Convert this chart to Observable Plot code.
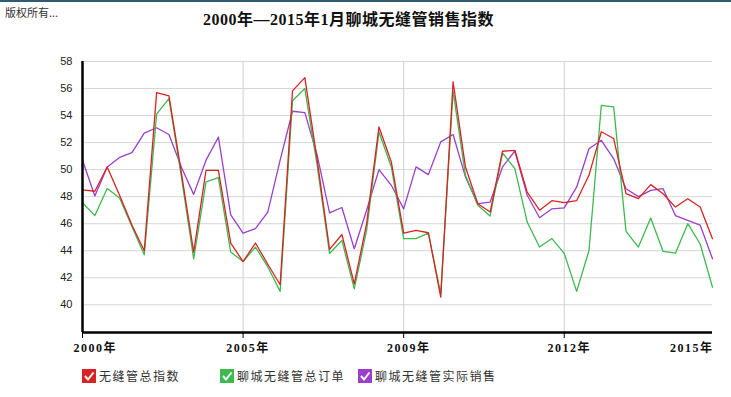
<!DOCTYPE html>
<html><head><meta charset="utf-8">
<script src="https://cdn.jsdelivr.net/npm/d3@7"></script>
<script src="https://cdn.jsdelivr.net/npm/@observablehq/plot@0.6"></script>
<style>
body{margin:0;background:#fff;}
#wrap{position:relative;width:731px;height:397px;overflow:hidden;background:#fff;}
#topline{position:absolute;left:0;top:0;width:731px;height:2px;background:#2f5b73;}
#copy{position:absolute;left:5px;top:4px;font:11px "Noto Sans CJK SC",sans-serif;color:#333;}
#title{position:absolute;left:0;width:697px;top:6px;text-align:center;font:bold 16px "Liberation Serif","Noto Sans CJK SC",serif;color:#111;letter-spacing:0.5px;}
#chart{position:absolute;left:0;top:0;}
#legend{position:absolute;left:0;top:367px;width:731px;height:20px;}
.item{position:absolute;top:0;display:flex;align-items:center;font:12px "Noto Sans CJK SC",sans-serif;color:#333;letter-spacing:1.5px;}
.item svg{margin-right:3px;}
</style></head><body>
<div id="wrap">
<div id="topline"></div>
<div id="chart"></div>
<div id="copy">版权所有...</div>
<div id="title">2000年—2015年1月聊城无缝管销售指数</div>
<div id="legend"></div>
</div>
<script>
const seriesNames = ["无缝管总指数", "聊城无缝管总订单", "聊城无缝管实际销售"];
const seriesColors = ["#d92323", "#3cba4f", "#9a3fcc"];
const tickIndex = [0, 13, 26, 39, 51];
const tickLabels = ["2000年", "2005年", "2009年", "2012年", "2015年"];
const yTicks = [40, 42, 44, 46, 48, 50, 52, 54, 56, 58];

const totalIndex = [48.5, 48.4, 50.2, 48.1, 45.9, 44.0, 55.7, 55.46, 49.8, 43.9, 49.95, 49.95, 44.56,
  43.2, 44.57, 43.0, 41.48, 55.83, 56.81, 50.7, 44.1, 45.2, 41.55, 46.0, 53.16, 50.56,
  45.3, 45.5, 45.33, 40.57, 56.5, 50.2, 47.48, 46.86, 51.36, 51.43, 48.34, 47.0, 47.7,
  47.56, 47.7, 49.58, 52.8, 52.3, 48.22, 47.85, 48.89, 48.22, 47.23, 47.85, 47.23, 44.89];
const totalOrders = [47.55, 46.6, 48.6, 47.9, 45.8, 43.7, 54.1, 55.26, 49.5, 43.4, 49.1, 49.4, 43.9,
  43.2, 44.27, 42.8, 40.99, 55.1, 56.0, 50.3, 43.8, 44.76, 41.18, 45.5, 52.79, 50.2,
  44.9, 44.9, 45.3, 40.8, 55.8, 49.58, 47.36, 46.57, 51.23, 50.07, 46.12, 44.27, 44.9,
  43.8, 40.99, 44.0, 54.76, 54.64, 45.43, 44.27, 46.42, 43.95, 43.82, 46.0, 44.5, 41.3];
const actualSales = [50.7, 48.05, 50.2, 50.9, 51.26, 52.7, 53.1, 52.6, 50.2, 48.17, 50.7, 52.4, 46.66,
  45.3, 45.63, 46.86, 50.7, 54.32, 54.22, 51.06, 46.8, 47.2, 44.15, 47.0, 50.0, 48.84,
  47.1, 50.2, 49.63, 52.05, 52.6, 49.46, 47.48, 47.6, 50.2, 51.38, 48.1, 46.44, 47.1,
  47.17, 48.7, 51.55, 52.17, 50.8, 48.59, 48.0, 48.47, 48.59, 46.6, 46.24, 45.9, 43.4];

const seriesValues = [totalIndex, totalOrders, actualSales];
const data = [];
[2, 1, 0].forEach(s => seriesValues[s].forEach((v, i) => data.push({i, v, s: seriesNames[s]})));

const yMin = 37.95, yMax = 58;

const chart = Plot.plot({
  width: 731, height: 360,
  marginTop: 61, marginBottom: 28, marginLeft: 82, marginRight: 19,
  x: {domain: [0, 51], axis: null},
  y: {domain: [yMin, yMax], axis: null},
  color: {domain: seriesNames, range: seriesColors},
  style: {background: "transparent"},
  marks: [
    Plot.ruleY(yTicks, {stroke: "#d6d6d6", strokeWidth: 1, strokeOpacity: 1}),
    Plot.ruleX(tickIndex.slice(1, 4), {stroke: "#d0d0d0", strokeWidth: 1}),
    Plot.line(data, {x: "i", y: "v", z: "s", stroke: "s", strokeWidth: 1.3, curve: "linear"}),
    Plot.ruleX([0], {stroke: "#000", strokeWidth: 2.5}),
    Plot.ruleY([yMin], {stroke: "#000", strokeWidth: 2.5}),
    Plot.axisY({ticks: yTicks, tickSize: 0, tickPadding: 10, label: null, fontSize: 11, fontFamily: "Liberation Sans, Arial, sans-serif", fill: "#222"}),
    Plot.axisX({ticks: tickIndex.slice(0, 4), tickSize: 6, tickFormat: () => "", label: null, stroke: "#000"}),
    Plot.text(tickIndex.slice(0, 1), {x: d => d, y: yMin, text: d => tickLabels[tickIndex.indexOf(d)], dy: 16, dx: -9, textAnchor: "start", fontWeight: "bold", fontSize: 12, fontFamily: "Liberation Serif, Noto Sans CJK SC, serif", fill: "#111"}),
    Plot.text(tickIndex.slice(1, 4), {x: d => d, y: yMin, text: d => tickLabels[tickIndex.indexOf(d)], dy: 16, dx: 5, textAnchor: "middle", fontWeight: "bold", fontSize: 12, fontFamily: "Liberation Serif, Noto Sans CJK SC, serif", fill: "#111"}),
    Plot.text(tickIndex.slice(4), {x: d => d, y: yMin, text: d => tickLabels[tickIndex.indexOf(d)], dy: 16, dx: 1, textAnchor: "end", fontWeight: "bold", fontSize: 12, fontFamily: "Liberation Serif, Noto Sans CJK SC, serif", fill: "#111"})
  ]
});
chart.querySelectorAll("text").forEach(t => { if (t.closest("g[aria-label='text']")) t.style.letterSpacing = "1.5px"; });
document.getElementById("chart").appendChild(chart);

const legend = document.getElementById("legend");
const legendX = [82, 220, 358];
seriesNames.forEach((name, k) => {
  const div = document.createElement("div");
  div.className = "item";
  div.style.left = legendX[k] + "px";
  div.innerHTML = `<svg width="14" height="14"><rect width="14" height="14" fill="${seriesColors[k]}"/><path d="M3 7 L6 10.5 L11.5 3.5" stroke="#fff" stroke-width="2" fill="none"/></svg><span>${name}</span>`;
  legend.appendChild(div);
});
</script>
</body></html>
